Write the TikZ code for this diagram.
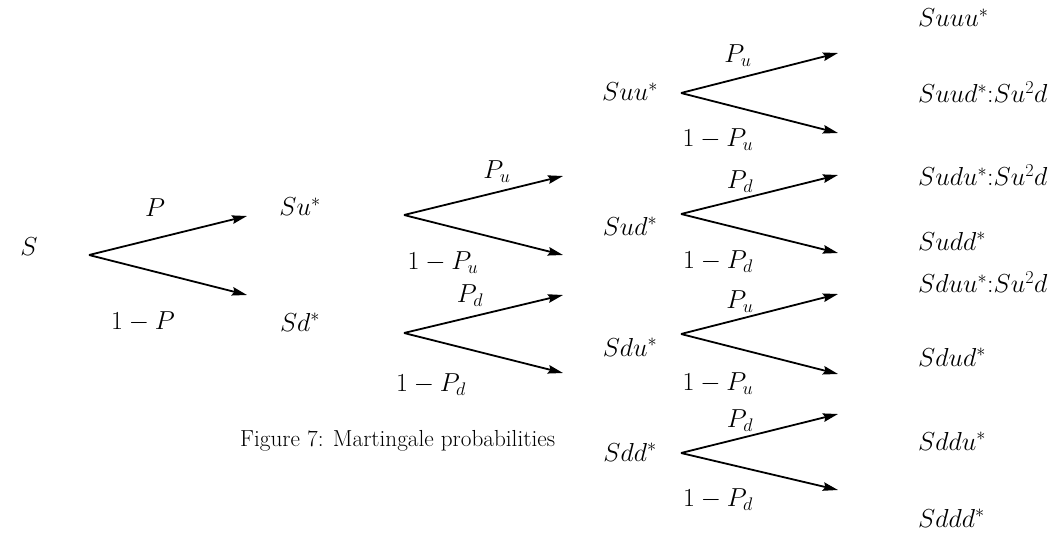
\RequirePackage{fix-cm}
\documentclass[tikz,border=0pt]{standalone}
\usetikzlibrary{arrows.meta}
\begin{document}
\begin{tikzpicture}[x=1pt,y=-1pt,
  every node/.style={inner sep=0pt,font=\fontsize{26}{30}\selectfont},
  br/.style={line width=1.8pt,-{Stealth[length=15pt,width=8.5pt,inset=2pt]}},
  lf/.style={anchor=west},
  captxt/.style={font=\fontsize{23.2}{27}\selectfont,anchor=west}]
\useasboundingbox (0,0) rectangle (1058,533);
% level 0
\node (s) at (29,247) {$S$};
\coordinate (a0) at (89,255);
\coordinate (t0u) at (247,216);
\coordinate (t0d) at (247,295);
\draw[br] (a0) -- (t0u);
\draw[br] (a0) -- (t0d);
\node (l0u) at (155,208) {$P$};
\node (l0d) at (143,322) {$1-P$};
% level 1
\node (su) at (300,207) {$Su^{*}$};
\node (sd) at (300,322) {$Sd^{*}$};
\coordinate (a1) at (404,215);
\coordinate (t1u) at (563,176);
\coordinate (t1d) at (563,255);
\draw[br] (a1) -- (t1u);
\draw[br] (a1) -- (t1d);
\node (l1u) at (497,172) {$P_u$};
\node (l1d) at (443,263) {$1-P_u$};
\coordinate (a2) at (404,333);
\coordinate (t2u) at (563,295);
\coordinate (t2d) at (563,373);
\draw[br] (a2) -- (t2u);
\draw[br] (a2) -- (t2d);
\node (l2u) at (470,296) {$P_d$};
\node (l2d) at (431,385) {$1-P_d$};
% level 2
\node (suu) at (630,92) {$Suu^{*}$};
\node (sud) at (630,226) {$Sud^{*}$};
\node (sdu) at (630,347) {$Sdu^{*}$};
\node (sdd) at (630,452) {$Sdd^{*}$};
\coordinate (a3) at (681,93);
\coordinate (t3u) at (838,53);
\coordinate (t3d) at (838,133);
\draw[br] (a3) -- (t3u);
\draw[br] (a3) -- (t3d);
\node (l3u) at (738,56) {$P_u$};
\node (l3d) at (718,140) {$1-P_u$};
\coordinate (a4) at (681,214);
\coordinate (t4u) at (838,175);
\coordinate (t4d) at (838,253);
\draw[br] (a4) -- (t4u);
\draw[br] (a4) -- (t4d);
\node (l4u) at (740,182) {$P_d$};
\node (l4d) at (718,262) {$1-P_d$};
\coordinate (a5) at (681,334);
\coordinate (t5u) at (838,294);
\coordinate (t5d) at (838,374);
\draw[br] (a5) -- (t5u);
\draw[br] (a5) -- (t5d);
\node (l5u) at (740,302) {$P_u$};
\node (l5d) at (718,384) {$1-P_u$};
\coordinate (a6) at (681,453);
\coordinate (t6u) at (838,414);
\coordinate (t6d) at (838,490);
\draw[br] (a6) -- (t6u);
\draw[br] (a6) -- (t6d);
\node (l6u) at (740,421) {$P_d$};
\node (l6d) at (718,500) {$1-P_d$};
% leaves
\node[lf] (suuu) at (918,18) {$Suuu^{*}$};
\node[lf] (suud) at (918,92) {$Suud^{*}{:}Su^2d$};
\node[lf] (sudu) at (918,175) {$Sudu^{*}{:}Su^2d$};
\node[lf] (sudd) at (918,241) {$Sudd^{*}$};
\node[lf] (sduu) at (918,282) {$Sduu^{*}{:}Su^2d$};
\node[lf] (sdud) at (918,357) {$Sdud^{*}$};
\node[lf] (sddu) at (918,441) {$Sddu^{*}$};
\node[lf] (sddd) at (918,518) {$Sddd^{*}$};
% caption
\node[captxt] (caption) at (240,441) {Figure 7: Martingale probabilities};
\end{tikzpicture}
\end{document}
